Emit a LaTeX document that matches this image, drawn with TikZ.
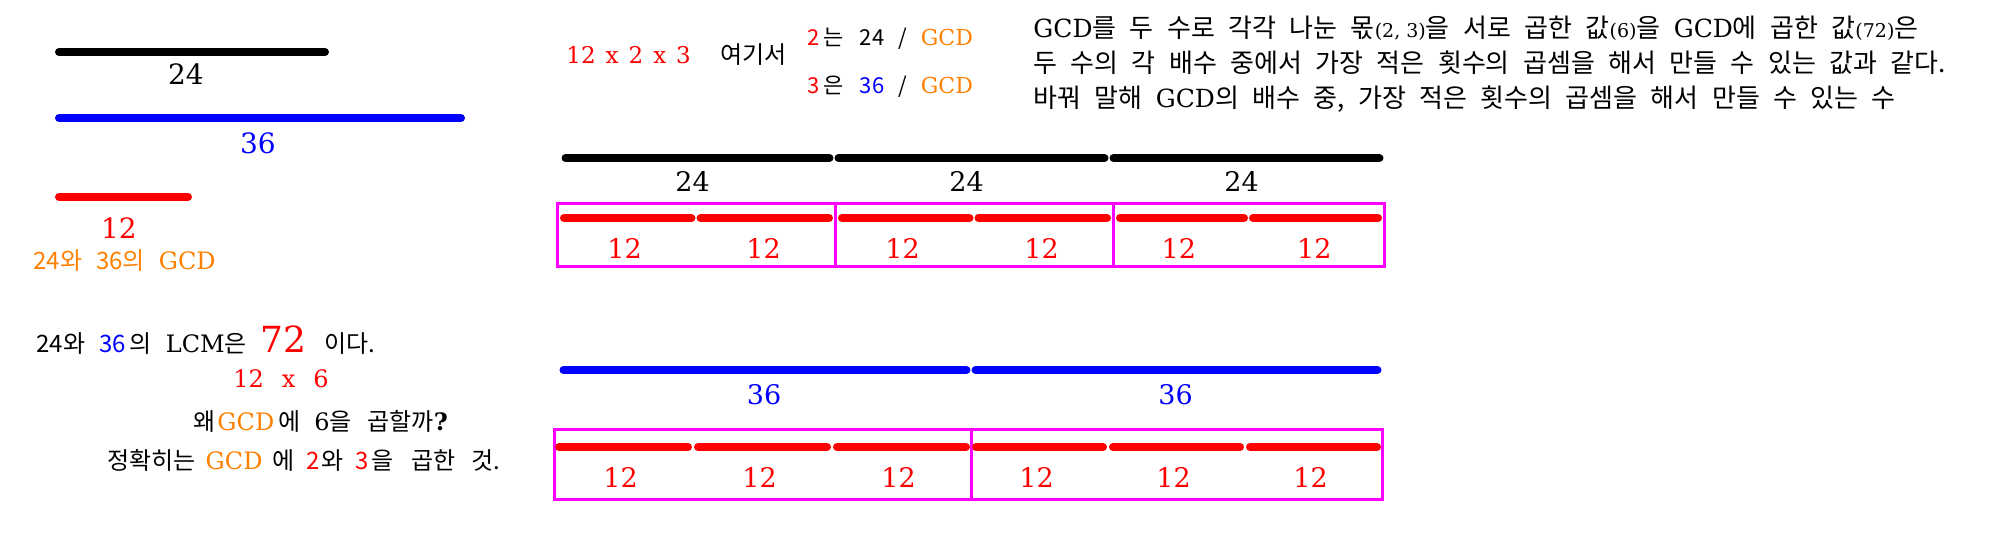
\documentclass[tikz,border=0pt]{standalone}
\usepackage{fontspec}
\setmainfont{DejaVu Serif}
\newfontfamily\kr[WordSpace=1.6]{Noto Sans CJK KR}
\newfontfamily\krwide[WordSpace=2.3]{Noto Sans CJK KR}
\usetikzlibrary{positioning}
\definecolor{gcdorange}{HTML}{FF8000}
\definecolor{boxpink}{HTML}{FF00FF}
\newcommand{\ko}[1]{{\kr #1}}
\newcommand{\la}[1]{{\fontsize{12.5}{14}\rmfamily #1}}
\newcommand{\pa}[1]{{\fontsize{9.5}{10}\rmfamily #1}}
\newcommand{\gcdword}{\textcolor{gcdorange}{GCD}}

\begin{document}
\begin{tikzpicture}[x=0.5pt,y=-0.5pt,
  bar/.style={line width=4pt,line cap=round},
  grp/.style={draw=boxpink,line width=1.5pt},
  lab/.style={inner sep=0pt,font=\fontsize{14}{16}\selectfont},
  seglab/.style={inner sep=0pt,font=\fontsize{13.5}{16}\selectfont},
  txt/.style={anchor=base west,inner sep=0pt,font=\fontsize{12}{14}\selectfont},
  note/.style={anchor=base west,inner sep=0pt,font=\fontsize{13}{14}\krwide}]
\useasboundingbox (0,0) rectangle (2016,548);
% the two numbers and their GCD
\draw[bar] (59,52) -- (325,52);
\node[lab] (n24) at (186,74) {24};
\draw[bar,blue] (59,118) -- (461,118);
\node[lab,text=blue] (n36) at (258,143) {36};
\draw[bar,red] (59,197) -- (188,197);
\node[lab,text=red] (n12) at (119,228) {12};
\node[txt,text=gcdorange] (gcdnote) at (33,269)
  {\ko{24와}\hspace{7pt}\ko{36의}\hspace{7pt}GCD};
% LCM notes
\node[txt] (lcm) at (36,352)
  {\ko{24와}\hspace{7pt}\ko{\textcolor{blue}{36}\hspace{2pt}의}\hspace{7pt}LCM\ko{은}\hspace{7pt}{\fontsize{18}{20}\selectfont\textcolor{red}{72}}\hspace{9pt}\ko{이다.}};
\node[txt,text=red] (prod) at (233,387) {12\hspace{9pt}x\hspace{9pt}6};
\node[txt] (why) at (193,430)
  {\ko{왜}\hspace{1pt}\gcdword\hspace{2pt}\ko{에}\hspace{7pt}6\ko{을}\hspace{8pt}\ko{곱할까}{\bfseries ?}};
\node[txt] (ans) at (107,469)
  {\ko{정확히는}\hspace{5pt}\gcdword\hspace{5pt}\ko{에}\hspace{6pt}\ko{\textcolor{red}{2}\hspace{1pt}와}\hspace{6pt}\ko{\textcolor{red}{3}\hspace{1pt}을}\hspace{9pt}\ko{곱한}\hspace{8pt}\ko{것.}};
% factor notes
\node[txt,text=red,font=\fontsize{11.5}{14}\selectfont] (fact) at (566,63) {12\hspace{5pt}x\hspace{5pt}2\hspace{5pt}x\hspace{5pt}3};
\node[txt,font=\fontsize{12}{14}\kr] (here) at (720,63) {여기서};
\node[txt,font=\fontsize{11}{14}\selectfont] (two) at (807,45)
  {\ko{\textcolor{red}{2}\hspace{2pt}는\hspace{8pt}24\hspace{7pt}/\hspace{7pt}}\gcdword};
\node[txt,font=\fontsize{11}{14}\selectfont] (three) at (807,93)
  {\ko{\textcolor{red}{3}\hspace{2pt}은\hspace{8pt}\textcolor{blue}{36}\hspace{7pt}/\hspace{7pt}}\gcdword};
\node[note] (l1) at (1033,37)
  {\la{GCD}를 두 수로 각각 나눈 몫\pa{(2, 3)}을 서로 곱한 값\pa{(6)}을 \la{GCD}에 곱한 값\pa{(72)}은};
\node[note] (l2) at (1033,72)
  {두 수의 각 배수 중에서 가장 적은 횟수의 곱셈을 해서 만들 수 있는 값과 같다.};
\node[note] (l3) at (1033,107)
  {바꿔 말해 \la{GCD}의 배수 중, 가장 적은 횟수의 곱셈을 해서 만들 수 있는 수};
% 72 as 24 x 3
\foreach \l/\r [count=\i] in {561/834,834/1109,1109/1384}{
  \draw[bar] (\l+4.5,158) -- (\r-4.5,158);
  \node[seglab] (t\i) at ({(\l+\r)/2-5},181) {24};
}
\foreach \l/\r [count=\i] in {557/835,835/1113,1113/1384}{
  \draw[grp] (\l,203) rectangle (\r,266);
  \pgfmathsetmacro\m{(\l+\r)/2}
  \draw[bar,red] (\l+7,218) -- (\m-4.5,218);
  \draw[bar,red] (\m+4.5,218) -- (\r-6,218);
  \node[seglab,text=red] (ua\i) at ({(\l+\m)/2-2},248) {12};
  \node[seglab,text=red] (ub\i) at ({(\m+\r)/2-2},248) {12};
}
% 72 as 36 x 2
\foreach \l/\r [count=\i] in {559/971,971/1382}{
  \draw[bar,blue] (\l+4.5,370) -- (\r-4.5,370);
  \node[seglab,text=blue] (s\i) at ({(\l+\r)/2-1},395) {36};
}
\foreach \l/\r [count=\i] in {554/971,971/1382}{
  \draw[grp] (\l,429) rectangle (\r,499);
  \pgfmathsetmacro\w{(\r-\l)/3}
  \foreach \k in {0,1,2}{
    \draw[bar,red] (\l+\k*\w+5,447) -- (\l+\k*\w+\w-5,447);
    \node[seglab,text=red] (v\i\k) at (\l+\k*\w+\w/2-3,477) {12};
  }
}
\end{tikzpicture}
\end{document}
